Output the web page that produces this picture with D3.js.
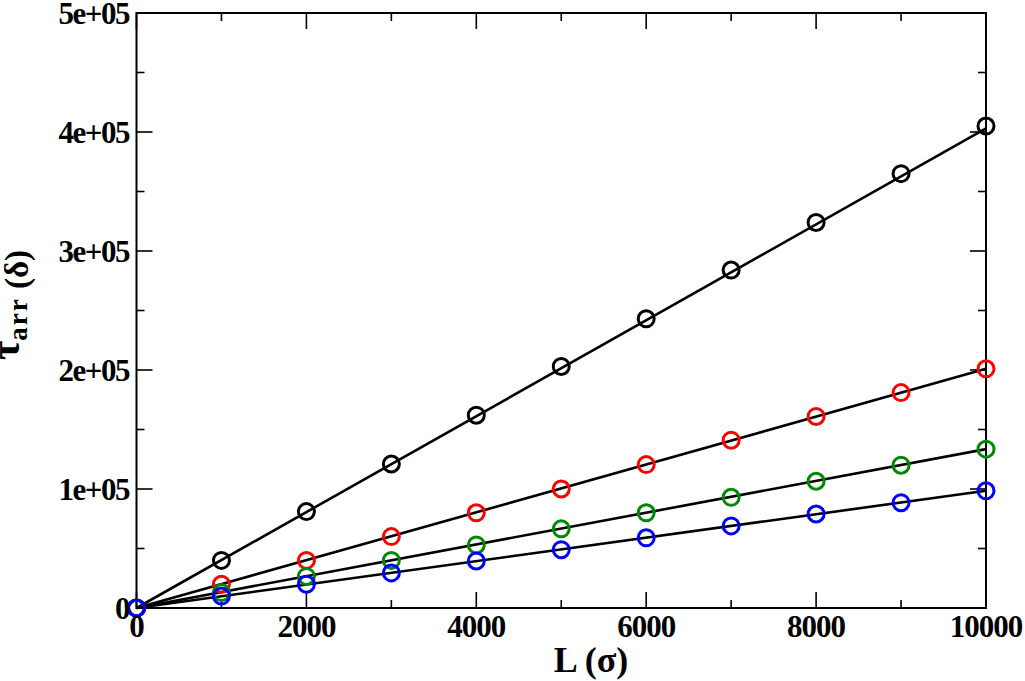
<!DOCTYPE html>
<html><head><meta charset="utf-8">
<script src="https://cdn.jsdelivr.net/npm/d3@7"></script>
<style>body{margin:0;background:#fff}</style>
</head><body>
<svg id="c" width="1025" height="681"></svg>
<script>
const L = [0,1000,2000,3000,4000,5000,6000,7000,8000,9000,10000];
const black = [0,40000,81000,121000,162000,203000,243000,284000,324000,365000,405000];
const red   = [0,20000,40000,60000,80000,100000,120500,141000,161000,181000,201000];
const green = [0,13000,26500,40000,53000,66500,80000,93000,106500,120000,133500];
const blue  = [0,10000,20000,29500,39500,49000,59000,69000,79000,88500,98500];
const fitSlopes = [40.3, 20.1, 13.35, 9.85];
const seriesColors = ["#000000","#ff0000","#008800","#0000ff"];
const xTicks = [0,2000,4000,6000,8000,10000];
const yTicks = [0,100000,200000,300000,400000,500000];
const yTickLabels = ["0","1e+05","2e+05","3e+05","4e+05","5e+05"];

const svg = d3.select("#c");
const m = {l:136.5, r:986, t:13, b:608};
const x = d3.scaleLinear().domain([0,10000]).range([m.l,m.r]);
const y = d3.scaleLinear().domain([0,500000]).range([m.b,m.t]);

const series = [black, red, green, blue];

// fit lines
const lineG = svg.append("g");
fitSlopes.forEach((s,i)=>{
  lineG.append("line")
    .attr("x1",x(0)).attr("y1",y(0))
    .attr("x2",x(10000)).attr("y2",y(s*10000))
    .attr("stroke","#000").attr("stroke-width",2.6);
});

// frame + ticks
const fr = svg.append("g");
const minorX = d3.range(0,10001,1000), minorY = d3.range(0,500001,50000);
function tick(x1,y1,x2,y2){fr.append("line").attr("x1",x1).attr("y1",y1).attr("x2",x2).attr("y2",y2).attr("stroke","#000").attr("stroke-width",1.6);}
minorX.forEach(v=>{
  const len = xTicks.includes(v)?16:8;
  tick(x(v),m.b,x(v),m.b-len);
  tick(x(v),m.t,x(v),m.t+len);
});
minorY.forEach(v=>{
  const len = yTicks.includes(v)?16:8;
  tick(m.l,y(v),m.l+len,y(v));
  tick(m.r,y(v),m.r-len,y(v));
});
fr.append("rect").attr("x",m.l).attr("y",m.t).attr("width",m.r-m.l).attr("height",m.b-m.t)
  .attr("fill","none").attr("stroke","#000").attr("stroke-width",2);

// markers
series.forEach((d,i)=>{
  svg.append("g").selectAll("circle").data(d).join("circle")
    .attr("cx",(v,j)=>x(L[j])).attr("cy",v=>y(v)).attr("r",8)
    .attr("fill","none").attr("stroke",seriesColors[i]).attr("stroke-width",3);
});

const font = "'Liberation Serif','Times New Roman',serif";
// tick labels
svg.append("g").selectAll("text").data(xTicks).join("text")
  .attr("x",v=>x(v)).attr("y",637).attr("text-anchor","middle")
  .attr("font-family",font).attr("font-weight","bold").attr("font-size",31)
  .attr("letter-spacing","-1")
  .text(v=>v);
svg.append("g").selectAll("text").data(yTicks).join("text")
  .attr("x",129).attr("y",v=>y(v)+10.5).attr("text-anchor","end")
  .attr("font-family",font).attr("font-weight","bold").attr("font-size",31)
  .attr("letter-spacing","-1.5")
  .text((v,i)=>yTickLabels[i]);

// x title
svg.append("text").attr("x",591).attr("y",672).attr("text-anchor","middle")
  .attr("font-family",font).attr("font-weight","bold").attr("font-size",36)
  .text("L (σ)");

// y title
const yt = svg.append("text").attr("transform","translate(28,305) rotate(-90)")
  .attr("text-anchor","middle").attr("font-family",font).attr("font-weight","bold");
yt.append("tspan").attr("font-size",42).attr("dy",-9).text("τ");
yt.append("tspan").attr("font-size",27).attr("dy",8).attr("letter-spacing","2").text("arr ");
yt.append("tspan").attr("font-size",33).attr("dy",1).text("(δ)");
</script>
</body></html>
